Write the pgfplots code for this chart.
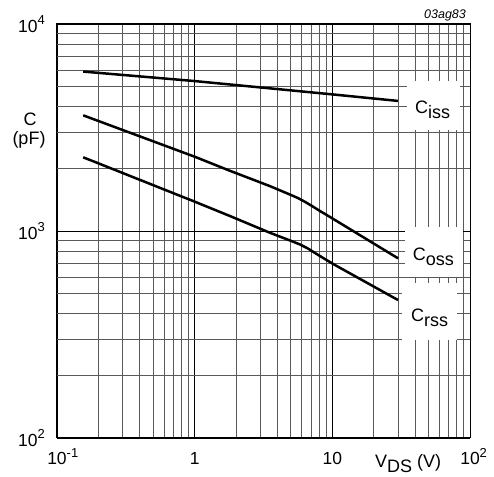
\documentclass[border=0pt]{standalone}
\usepackage{fontspec}
\setmainfont{Liberation Sans}
\usepackage{pgfplots}
\pgfplotsset{compat=1.18}
\newcommand{\lbl}{\fontsize{18}{21}\selectfont}
\newcommand{\tck}{\fontsize{17.5}{20}\selectfont}
\newcommand{\sups}[1]{\raisebox{7.5pt}{\fontsize{13}{14}\selectfont #1}}
\begin{document}
\begin{tikzpicture}
\useasboundingbox (-57pt,-38pt) rectangle (437pt,438pt);
\begin{axis}[
  at={(0pt,0pt)}, anchor=south west,
  scale only axis, width=413pt, height=414pt,
  xmode=log, ymode=log,
  xmin=0.1, xmax=100, ymin=100, ymax=10000,
  xtick={0.1,1,10,100},
  xticklabels={10\rlap{\sups{-1}},1,10,10\rlap{\sups{2}}},
  ytick={100,1000,10000},
  yticklabels={10\sups{2},10\sups{3},10\sups{4}},
  xticklabel style={font=\tck, anchor=base, inner sep=0pt, yshift=-27pt},
  yticklabel style={font=\tck, anchor=east, inner sep=0pt, xshift=-12pt},
  major tick length=0pt, minor tick length=0pt,
  grid=both,
  major grid style={black, line width=0.8pt},
  minor grid style={black!65, line width=0.8pt},
  axis line style={black, line width=1pt},
]
\addplot[black, line width=2.5pt, line join=round] coordinates {
 (0.155,5890) (1,5300) (10,4570) (30,4250)};
\addplot[black, line width=2.5pt, line join=round] coordinates {
 (0.155,3620) (1,2285) (1.8,1955) (3.5,1650) (4.92,1500) (5.62,1443) (6.32,1384) (7.11,1321) (8.13,1249) (9.1,1195) (30,738)};
\addplot[black, line width=2.5pt, line join=round] coordinates {
 (0.155,2270) (1,1386) (1.8,1182) (3.5,982) (4.92,900) (5.82,861) (6.65,823) (7.6,778) (8.84,732) (10.45,685) (30,464)};
\end{axis}
\fill[white] (350pt,308pt) rectangle (403pt,357pt);
\fill[white] (348pt,161pt) rectangle (406pt,211pt);
\fill[white] (345pt,98pt) rectangle (400pt,155pt);
\node[anchor=base west, inner sep=0pt, font=\lbl] at (358pt,324pt) {C\raisebox{-5pt}{iss}};
\node[anchor=base west, inner sep=0pt, font=\lbl] at (355.7pt,177pt) {C\raisebox{-5pt}{oss}};
\node[anchor=base west, inner sep=0pt, font=\lbl] at (354pt,116pt) {C\raisebox{-5pt}{rss}};
\node[anchor=base west, inner sep=0pt, font=\lbl] at (318pt,-29pt) {V\raisebox{-5pt}{DS} (V)};
\node[anchor=base, inner sep=0pt, font=\lbl] at (-27pt,312pt) {C};
\node[anchor=base, inner sep=0pt, font=\lbl] at (-28pt,293pt) {(pF)};
\node[anchor=base, inner sep=0pt, font=\fontsize{12.5}{14}\selectfont\itshape] at (388pt,419.7pt) {03ag83};
\end{tikzpicture}
\end{document}
